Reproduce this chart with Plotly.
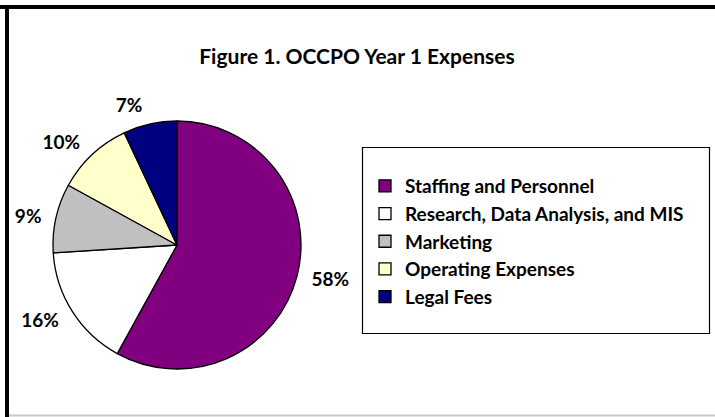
import plotly.graph_objects as go

categories = ["Staffing and Personnel", "Research, Data Analysis, and MIS",
              "Marketing", "Operating Expenses", "Legal Fees"]
values = [58, 16, 9, 10, 7]
colors = ["#800080", "#FFFFFF", "#C0C0C0", "#FFFFCC", "#000080"]

W, H = 715, 417
FONT = "Lato"
CX, CY, R = 177, 245, 124   # pie centre / radius in px
RL = R + 9                  # radius used to place the outside labels

fig = go.Figure()
# visible pie (no text)
fig.add_trace(go.Pie(
    labels=categories,
    values=values,
    sort=False,
    direction="clockwise",
    rotation=0,
    marker=dict(colors=colors, line=dict(color="black", width=1.3)),
    textinfo="none",
    domain=dict(x=[(CX - R) / W, (CX + R) / W], y=[(H - CY - R) / H, (H - CY + R) / H]),
    hoverinfo="label+percent",
))
# transparent pie, slightly larger, only used to place the percentage labels
fig.add_trace(go.Pie(
    labels=categories,
    values=values,
    sort=False,
    direction="clockwise",
    rotation=0,
    marker=dict(colors=["rgba(0,0,0,0)"] * len(values), line=dict(width=0)),
    textinfo="percent",
    textposition="outside",
    textfont=dict(family=FONT, size=19, color="black", weight="bold"),
    domain=dict(x=[(CX - RL) / W, (CX + RL) / W], y=[(H - CY - RL) / H, (H - CY + RL) / H]),
    hoverinfo="skip",
    showlegend=False,
))

fig.update_layout(
    width=W, height=H,
    margin=dict(l=0, r=0, t=0, b=0),
    paper_bgcolor="white",
    plot_bgcolor="white",
    font=dict(family=FONT, color="black"),
    title=dict(
        text="Figure 1. OCCPO Year 1 Expenses",
        x=357 / W, xanchor="center",
        y=1 - 57 / H, yanchor="middle",
        font=dict(family=FONT, size=21, color="black", weight="bold"),
    ),
    showlegend=True,
    legend=dict(
        x=365 / W, xanchor="left",
        y=1 - 167 / H, yanchor="top",
        borderwidth=0,
        bgcolor="rgba(0,0,0,0)",
        font=dict(family=FONT, size=19, color="black", weight="bold"),
        traceorder="normal",
    ),
    shapes=[
        # legend frame
        dict(type="rect", xref="paper", yref="paper",
             x0=362.5 / W, x1=709.5 / W, y0=1 - 333.5 / H, y1=1 - 147.5 / H,
             line=dict(color="black", width=1.2), layer="below"),
        # outer chart frame
        dict(type="line", xref="paper", yref="paper",
             x0=0, x1=1.0, y0=1 - 7 / H, y1=1 - 7 / H,
             line=dict(color="black", width=4)),
        dict(type="line", xref="paper", yref="paper",
             x0=7 / W, x1=7 / W, y0=1 - 5 / H, y1=0,
             line=dict(color="black", width=4)),
        dict(type="line", xref="paper", yref="paper",
             x0=9 / W, x1=1.0, y0=1.5 / H, y1=1.5 / H,
             line=dict(color="#C8C8C8", width=2)),
    ],
)

fig.write_html("out.html", config={"displayModeBar": False},
               post_script="document.body.style.margin='0';")
